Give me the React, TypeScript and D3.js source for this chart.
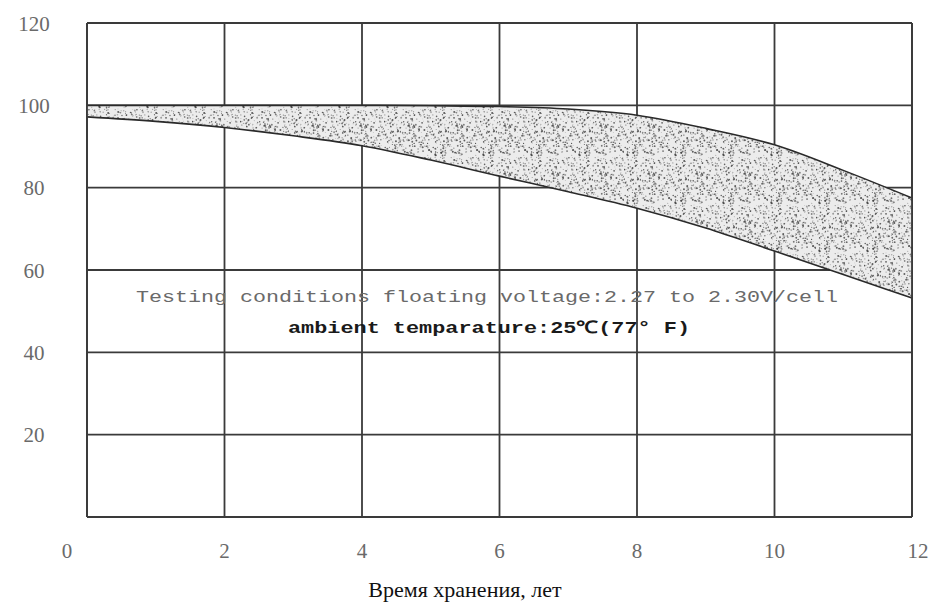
import React, { useMemo } from "react";
import * as d3 from "d3";

// ---- data ----
const years = [0, 1, 2, 3, 4, 5, 6, 7, 8, 9, 10, 11, 12];
const upperCapacity = [100, 100, 100, 100, 100, 99.9, 99.7, 99.1, 97.6, 94.4, 90.4, 84.2, 77.5];
const lowerCapacity = [97.2, 96.1, 94.6, 92.6, 90.2, 86.7, 82.8, 79.0, 75.0, 70.2, 64.6, 58.9, 53.2];
const xTicks = [0, 2, 4, 6, 8, 10, 12];
const yTicks = [20, 40, 60, 80, 100, 120];
const xTitle = "Время хранения, лет";
const note1 = "Testing conditions floating voltage:2.27 to 2.30V/cell";
const note2 = "ambient temparature:25℃(77° F)";

const W = 932;
const H = 612;
const M = { left: 87, right: 912, top: 23, bottom: 517 };

function hash(n: number) {
  const s = Math.sin(n * 12.9898 + 78.233) * 43758.5453;
  return s - Math.floor(s);
}

export default function App() {
  const x = d3.scaleLinear().domain([0, 12]).range([M.left, M.right]);
  const y = d3.scaleLinear().domain([0, 120]).range([M.bottom, M.top]);

  const pts = years.map((t, i) => ({ t, hi: upperCapacity[i], lo: lowerCapacity[i] }));
  const area = d3
    .area<any>()
    .x((d) => x(d.t))
    .y0((d) => y(d.lo))
    .y1((d) => y(d.hi))
    .curve(d3.curveMonotoneX);
  const lineHi = d3.line<any>().x((d) => x(d.t)).y((d) => y(d.hi)).curve(d3.curveMonotoneX);
  const lineLo = d3.line<any>().x((d) => x(d.t)).y((d) => y(d.lo)).curve(d3.curveMonotoneX);

  const T = 48;
  const dots = useMemo(() => {
    const arr: { cx: number; cy: number; r: number; o: number }[] = [];
    for (let i = 0; i < 300; i++) {
      arr.push({
        cx: hash(i) * T,
        cy: hash(i + 700) * T,
        r: 0.35 + hash(i + 1400) * 0.65,
        o: 0.35 + hash(i + 2100) * 0.55,
      });
    }
    return arr;
  }, []);

  const gridColor = "#3a3a3a";
  const labelFont = "'Liberation Serif', 'Times New Roman', serif";

  return (
    <svg
      width={W}
      height={H}
      viewBox={`0 0 ${W} ${H}`}
      style={{ position: "absolute", left: 0, top: 0, background: "#fff" }}
    >
      <defs>
        <pattern id="stipple" width={T} height={T} patternUnits="userSpaceOnUse">
          <rect width={T} height={T} fill="#ececec" />
          {dots.map((d, i) => (
            <circle key={i} cx={d.cx} cy={d.cy} r={d.r} fill="#3c3c3c" opacity={d.o} />
          ))}
        </pattern>
      </defs>
      <rect width={W} height={H} fill="#fff" />

      {/* grid */}
      {xTicks.map((t) => (
        <line key={"vx" + t} x1={x(t)} x2={x(t)} y1={y(0)} y2={y(120)} stroke={gridColor} strokeWidth={1.8} />
      ))}
      {[0, ...yTicks].map((t) => (
        <line key={"hy" + t} x1={x(0)} x2={x(12)} y1={y(t)} y2={y(t)} stroke={gridColor} strokeWidth={1.8} />
      ))}

      {/* band */}
      <path d={area(pts) || ""} fill="url(#stipple)" />
      <path d={lineHi(pts) || ""} fill="none" stroke="#2a2a2a" strokeWidth={1.6} />
      <path d={lineLo(pts) || ""} fill="none" stroke="#2a2a2a" strokeWidth={1.6} />

      {/* frame edges redrawn */}
      <line x1={x(12)} x2={x(12)} y1={y(0)} y2={y(120)} stroke={gridColor} strokeWidth={1.8} />
      <line x1={x(0)} x2={x(0)} y1={y(0)} y2={y(120)} stroke={gridColor} strokeWidth={1.8} />

      {/* y tick labels */}
      {yTicks.map((t) => (
        <text
          key={"yl" + t}
          x={34}
          y={y(t)}
          dy="0.36em"
          textAnchor="middle"
          fontFamily={labelFont}
          fontSize={21}
          fill="#6a6a6a"
        >
          {t}
        </text>
      ))}

      {/* x tick labels */}
      {xTicks.map((t) => (
        <text
          key={"xl" + t}
          x={x(t) + (t === 0 ? -20 : t === 12 ? 6 : 0)}
          y={550}
          dy="0.36em"
          textAnchor="middle"
          fontFamily={labelFont}
          fontSize={21}
          fill="#6a6a6a"
        >
          {t}
        </text>
      ))}

      {/* annotations */}
      <text
        x={136}
        y={302}
        textLength={702}
        lengthAdjust="spacingAndGlyphs"
        fontFamily="'Liberation Mono', 'DejaVu Sans Mono', monospace"
        fontSize={16}
        fill="#6a6a6a"
      >
        {note1}
      </text>
      <text
        x={288}
        y={333}
        textLength={402}
        lengthAdjust="spacingAndGlyphs"
        fontFamily="'Liberation Mono', 'DejaVu Sans Mono', monospace"
        fontWeight="bold"
        fontSize={17}
        fill="#1a1a1a"
      >
        {note2}
      </text>

      {/* axis title */}
      <text
        x={465}
        y={597}
        textAnchor="middle"
        fontFamily={labelFont}
        fontSize={22}
        fill="#111"
      >
        {xTitle}
      </text>
    </svg>
  );
}
